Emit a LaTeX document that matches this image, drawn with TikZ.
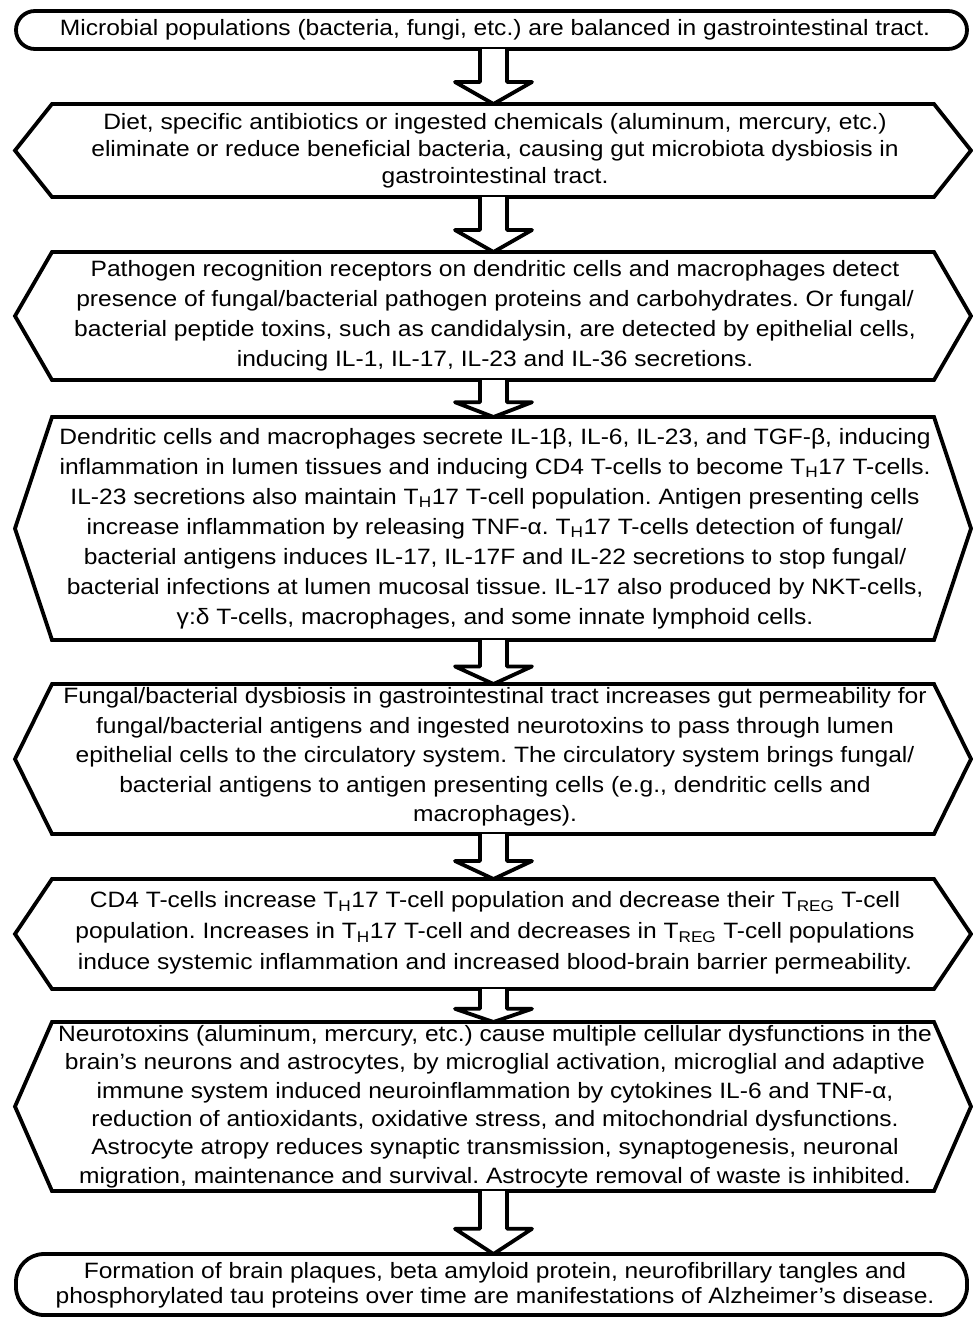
\documentclass[tikz,border=0pt]{standalone}
\usepackage{fontspec}
\setmainfont{Liberation Sans}
\usetikzlibrary{calc}
\newcommand{\Tsub}[1]{T\textsubscript{#1}}
\tikzset{
  boxline/.style={line width=3.8pt, line join=miter},
  txt/.style={align=center, xscale=1.107, font=\fontsize{22.2}{#1}\selectfont, inner sep=0pt},
  txt/.default=28,
  blockarrow/.style={line width=3.8pt, fill=white, line join=round},
}
\begin{document}
\frenchspacing
\begin{tikzpicture}[x=1pt,y=1pt]
\useasboundingbox (0,0) rectangle (973,-1318);
% Box 1
\draw[boxline, rounded corners=19pt] (16,-11) rectangle (967,-49);
\node[txt] (t1) at (495,-30) {Microbial populations (bacteria, fungi, etc.) are balanced in gastrointestinal tract.};
\coordinate (b1bot) at (493.5,-49);
% Box 2
\draw[boxline] (15,-150.5) -- (52,-104) -- (934,-104) -- (971,-150.5) -- (934,-197) -- (52,-197) -- cycle;
\node[txt=27] (t2) at (495,-150.5) {Diet, specific antibiotics or ingested chemicals (aluminum, mercury, etc.)\\ eliminate or reduce beneficial bacteria, causing gut microbiota dysbiosis in\\ gastrointestinal tract.};
\coordinate (b2top) at (493.5,-104);
\coordinate (b2bot) at (493.5,-197);
% Box 3
\draw[boxline] (15,-316) -- (52,-252) -- (934,-252) -- (971,-316) -- (934,-380) -- (52,-380) -- cycle;
\node[txt=30] (t3) at (495,-316) {Pathogen recognition receptors on dendritic cells and macrophages detect\\ presence of fungal/bacterial pathogen proteins and carbohydrates. Or fungal/\\ bacterial peptide toxins, such as candidalysin, are detected by epithelial cells,\\ inducing IL-1, IL-17, IL-23 and IL-36 secretions.};
\coordinate (b3top) at (493.5,-252);
\coordinate (b3bot) at (493.5,-380);
% Box 4
\draw[boxline] (15,-528.5) -- (52,-417) -- (934,-417) -- (971,-528.5) -- (934,-640) -- (52,-640) -- cycle;
\node[txt=30] (t4) at (495,-528.5) {Dendritic cells and macrophages secrete IL-1β, IL-6, IL-23, and TGF-β, inducing\\ inflammation in lumen tissues and inducing CD4 T-cells to become \Tsub{H}17 T-cells.\\ IL-23 secretions also maintain \Tsub{H}17 T-cell population. Antigen presenting cells\\ increase inflammation by releasing TNF-α. \Tsub{H}17 T-cells detection of fungal/\\ bacterial antigens induces IL-17, IL-17F and IL-22 secretions to stop fungal/\\ bacterial infections at lumen mucosal tissue. IL-17 also produced by NKT-cells,\\ γ:δ T-cells, macrophages, and some innate lymphoid cells.};
\coordinate (b4top) at (493.5,-417);
\coordinate (b4bot) at (493.5,-640);
% Box 5
\draw[boxline] (15,-759) -- (52,-684) -- (934,-684) -- (971,-759) -- (934,-834) -- (52,-834) -- cycle;
\node[txt=29.5] (t5) at (495,-757) {Fungal/bacterial dysbiosis in gastrointestinal tract increases gut permeability for\\ fungal/bacterial antigens and ingested neurotoxins to pass through lumen\\ epithelial cells to the circulatory system. The circulatory system brings fungal/\\ bacterial antigens to antigen presenting cells (e.g., dendritic cells and\\ macrophages).};
\coordinate (b5top) at (493.5,-684);
\coordinate (b5bot) at (493.5,-834);
% Box 6
\draw[boxline] (15,-934) -- (52,-879) -- (934,-879) -- (971,-934) -- (934,-989) -- (52,-989) -- cycle;
\node[txt=31] (t6) at (495,-933) {CD4 T-cells increase \Tsub{H}17 T-cell population and decrease their \Tsub{REG} T-cell\\ population. Increases in \Tsub{H}17 T-cell and decreases in \Tsub{REG} T-cell populations\\ induce systemic inflammation and increased blood-brain barrier permeability.};
\coordinate (b6top) at (493.5,-879);
\coordinate (b6bot) at (493.5,-989);
% Box 7
\draw[boxline] (15,-1106.5) -- (52,-1022) -- (934,-1022) -- (971,-1106.5) -- (934,-1191) -- (52,-1191) -- cycle;
\node[txt=28.4] (t7) at (495,-1106.5) {Neurotoxins (aluminum, mercury, etc.) cause multiple cellular dysfunctions in the\\ brain’s neurons and astrocytes, by microglial activation, microglial and adaptive\\ immune system induced neuroinflammation by cytokines IL-6 and TNF-α,\\ reduction of antioxidants, oxidative stress, and mitochondrial dysfunctions.\\ Astrocyte atropy reduces synaptic transmission, synaptogenesis, neuronal\\ migration, maintenance and survival. Astrocyte removal of waste is inhibited.};
\coordinate (b7top) at (493.5,-1022);
\coordinate (b7bot) at (493.5,-1191);
% Box 8
\draw[boxline, rounded corners=28pt] (16,-1254) rectangle (967,-1315);
\node[txt=25] (t8) at (495,-1285) {Formation of brain plaques, beta amyloid protein, neurofibrillary tangles and\\ phosphorylated tau proteins over time are manifestations of Alzheimer’s disease.};
\coordinate (b8top) at (493.5,-1254);
% Arrows
\foreach \a/\b in {b1bot/b2top, b2bot/b3top, b3bot/b4top, b4bot/b5top, b5bot/b6top, b6bot/b7top, b7bot/b8top}{
  \draw[blockarrow] let \p1=(\a), \p2=(\b), \n1={\y2+0.4*(\y1-\y2)} in
    (\x1-13.5,\y1) -- (\x1-13.5,\n1) -- (\x1-38.5,\n1) -- (\x2,\y2) -- (\x1+38.5,\n1) -- (\x1+13.5,\n1) -- (\x1+13.5,\y1);
}
\end{tikzpicture}
\end{document}
